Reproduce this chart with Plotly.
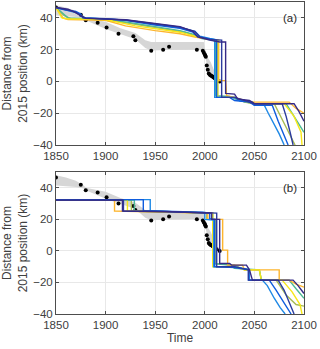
import plotly.graph_objects as go
from plotly.subplots import make_subplots

# observed front positions (km from 2015 position)
obs_year = [1850, 1875, 1880, 1892, 1901, 1913, 1928, 1930, 1946, 1958, 1964,
            1992, 1998, 1999, 2000, 2000.5, 2001, 2002, 2003, 2004, 2005, 2006,
            2007, 2008, 2009, 2010, 2012, 2015]
obs_dist = [46.5, 42, 38.5, 37, 34, 30, 28.4, 26, 19.3, 20, 21.8,
            20, 19.3, 18, 17, 16.2, 15.5, 10, 7.4, 5, 4.2, 3.8,
            3.5, 3, 2.5, 2, 1, 0]

# uncertainty band of observations
band_year = [1850, 1860, 1870, 1878, 1880, 1900, 1915, 1930, 1940, 1946, 1960, 1990,
             1999, 2000, 2003, 2006, 2008, 2012, 2015]
band_upper = [48, 46.5, 44.5, 41.5, 40, 37.5, 33.5, 30.5, 26, 24.8, 24.8, 24.8,
              24.8, 21, 15, 12, 9, 3, 0]
band_lower = [41.5, 41, 40.5, 39.5, 38.5, 33, 29.5, 26.5, 21, 19.5, 19.8, 20,
              19.5, 16, 8, 3, 2, 0.5, 0]

colors = {
    "navy": "#352A87",
    "navy2": "#2B3B9E",
    "blue": "#0F5CDD",
    "lightblue": "#1E88E5",
    "teal": "#4DBA95",
    "olive": "#A8BC55",
    "orange": "#FDB52E",
    "yellow": "#F7E718",
}

# panel (a) model runs: (years, distances)
runs_a = {
    "olive": ([1850, 1858, 1865, 1900, 1930, 1955, 1980, 1995, 2013, 2013, 2030, 2040, 2050, 2070, 2078, 2086, 2091],
              [46.5, 41.5, 39.5, 39, 36, 33.5, 31, 27.5, 26, -10, -10, -13, -14, -14, -24, -33, -40]),
    "teal": ([1850, 1858, 1862, 1880, 1920, 1950, 1975, 1990, 1997, 2008, 2011, 2011, 2025, 2035, 2050, 2082, 2090, 2100],
             [46.5, 42, 40, 39.5, 37.5, 34.5, 32, 29.5, 27, 26, 25, -9, -9.5, -12, -14, -14, -22, -32]),
    "orange": ([1850, 1857, 1862, 1900, 1920, 1950, 1975, 1990, 2005, 2014, 2014, 2021, 2022, 2030, 2040, 2050, 2085, 2092, 2100],
               [46.5, 40, 39, 38.5, 35, 32, 30, 28, 26.5, 26, 0.5, 0.5, -9, -10, -12, -13, -13, -17, -20]),
    "yellow": ([1850, 1856, 1860, 1900, 1930, 1955, 1975, 1990, 2005, 2013, 2013, 2030, 2040, 2050, 2080, 2090, 2097, 2098],
               [46.5, 40, 39.5, 39, 35, 33, 31, 28.5, 26.5, 26, -10, -10, -12.5, -14, -14, -22, -32, -40]),
    "lightblue": ([1850, 1865, 1872, 1876, 1880, 1920, 1950, 1975, 1990, 1995, 2005, 2010, 2010, 2030, 2035, 2048, 2050, 2060, 2064, 2070, 2075, 2080],
                  [46.5, 44, 43, 41, 40, 38.6, 35.8, 33.8, 31.5, 28.5, 27, 26.5, -10, -10, -12, -13, -15, -15, -20, -27, -33, -40]),
    "blue": ([1850, 1860, 1870, 1875, 1877, 1900, 1920, 1950, 1975, 1988, 1993, 2005, 2012, 2012, 2025, 2030, 2045, 2050, 2068, 2074, 2080, 2084],
             [46.5, 45, 44, 42.5, 40, 39.5, 38.5, 35.5, 33.5, 31, 28, 26.5, 26, -10, -10, -12, -13, -15, -15, -25, -34, -40]),
    "navy2": ([1850, 1862, 1870, 1874, 1878, 1920, 1950, 1975, 1990, 1995, 2005, 2017, 2017, 2030, 2040, 2050, 2078, 2082, 2086, 2089],
              [46.5, 45, 43.5, 41.5, 40, 38.7, 36, 34.2, 31.5, 28, 26.5, 26, -10, -10, -12, -14, -14, -22, -32, -40]),
    "navy": ([1850, 1862, 1868, 1873, 1876, 1880, 1920, 1950, 1975, 1988, 1993, 2005, 2015, 2021, 2021, 2030, 2033, 2045, 2050, 2090, 2095, 2100],
             [46.5, 45.5, 44, 42, 41, 39.7, 38.8, 36.2, 34.5, 31.5, 28, 26, 24.8, 24.8, -7.5, -8, -11, -12, -14, -14, -19, -25]),
}

# panel (b) model runs
runs_b = {
    "olive": ([1850, 1926, 1926, 1998, 2002, 2002, 2011, 2011, 2030, 2040, 2055, 2057, 2072, 2082, 2092, 2100],
              [32.2, 32.2, 25.5, 24.3, 24, 20, 20, -8, -9, -12, -12, -18.5, -18.5, -28, -34, -35]),
    "teal": ([1850, 1929, 1929, 1998, 2008, 2008, 2025, 2030, 2055, 2057, 2085, 2092, 2100],
             [32.2, 32.2, 25.5, 24.5, 24, -8, -9, -11, -12, -18.5, -18.5, -24, -30]),
    "orange": ([1850, 1909, 1909, 1998, 2003, 2003, 2018, 2018, 2023, 2023, 2038, 2040, 2075, 2075, 2085, 2092, 2100],
               [32.2, 32.2, 25.3, 24.5, 24, 20, 20, 0.5, 0.5, -9, -9, -12, -12, -18.5, -18.5, -21, -23]),
    "yellow": ([1850, 1922, 1922, 1998, 2008, 2008, 2030, 2040, 2055, 2057, 2078, 2088, 2096, 2098],
               [32.2, 32.2, 25.3, 24.5, 24, -10, -10, -12, -12, -18.5, -18.5, -26, -34, -40]),
    "lightblue": ([1850, 1945, 1945, 1960, 1998, 2000, 2000, 2009, 2009, 2030, 2045, 2045, 2058, 2063, 2070, 2076, 2081],
                  [32.5, 32.5, 25.5, 25.2, 24.5, 24, 20, 19.5, -10, -10, -12, -18.5, -18.5, -22, -30, -36, -40]),
    "blue": ([1850, 1938, 1938, 1960, 1998, 2005, 2005, 2010, 2010, 2030, 2044, 2044, 2065, 2072, 2080, 2087],
             [32.5, 32.5, 25.5, 25.2, 24.5, 24, 20.5, 20, -10, -10.5, -12, -18.5, -18.5, -25, -33, -40]),
    "navy2": ([1850, 1918, 1918, 1960, 1999, 2012, 2012, 2030, 2044, 2044, 2074, 2080, 2086, 2090],
              [32.2, 32.2, 25.3, 25, 24.3, 24, -10, -10, -12, -18.5, -18.5, -25, -34, -40]),
    "navy": ([1850, 1917, 1917, 1960, 2000, 2007, 2007, 2015, 2015, 2025, 2027, 2042, 2045, 2048, 2089, 2094, 2100],
             [32.2, 32.2, 25.3, 25, 24, 24, 20, 20, -8, -8, -9, -9, -12, -18.5, -18.5, -22, -27]),
}

FONT = "Liberation Sans, Arial"

fig = make_subplots(rows=2, cols=1, vertical_spacing=0.0)

for row, runs in ((1, runs_a), (2, runs_b)):
    fig.add_trace(go.Scatter(x=band_year, y=band_upper, mode="lines",
                             line=dict(width=0), hoverinfo="skip",
                             showlegend=False), row=row, col=1)
    fig.add_trace(go.Scatter(x=band_year, y=band_lower, mode="lines",
                             line=dict(width=0), fill="tonexty",
                             fillcolor="#D6D6D6", hoverinfo="skip",
                             showlegend=False), row=row, col=1)
    fig.add_trace(go.Scatter(x=obs_year, y=obs_dist, mode="markers",
                             marker=dict(color="black", size=4),
                             showlegend=False), row=row, col=1)
    for name, (yrs, dist) in runs.items():
        fig.add_trace(go.Scatter(x=yrs, y=dist, mode="lines",
                                 line=dict(color=colors[name], width=1.4),
                                 showlegend=False), row=row, col=1)

axis_style = dict(
    showline=True, linecolor="#4D4D4D", linewidth=1, mirror="ticks",
    ticks="inside", ticklen=3, tickcolor="#4D4D4D",
    showgrid=True, gridcolor="#E8E8E8", gridwidth=1, zeroline=False,
    automargin=False,
    tickfont=dict(family=FONT, size=11.5, color="#404040"),
)

for row in (1, 2):
    fig.update_xaxes(range=[1850, 2100], dtick=50, **axis_style, row=row, col=1)
    fig.update_yaxes(range=[-40, 50], tickvals=[-40, -20, 0, 20, 40],
                     title=dict(text="Distance from<br>2015 position (km)",
                                font=dict(family=FONT, size=12, color="#404040"),
                                standoff=4),
                     **axis_style, row=row, col=1)

fig.update_xaxes(title=dict(text="Time", standoff=2,
                            font=dict(family=FONT, size=12, color="#404040")),
                 row=2, col=1)

fig.update_layout(
    width=320, height=349,
    margin=dict(l=56, r=16, t=2, b=35),
    plot_bgcolor="white", paper_bgcolor="white",
    yaxis=dict(domain=[0.5417, 1.0]),
    yaxis2=dict(domain=[0.0, 0.455]),
    annotations=[
        dict(x=2086, y=40, xref="x", yref="y", text="(a)", showarrow=False,
             font=dict(family=FONT, size=11.5, color="#262626")),
        dict(x=2086, y=40, xref="x2", yref="y2", text="(b)", showarrow=False,
             font=dict(family=FONT, size=11.5, color="#262626")),
    ],
)

# drop the page's default body margin so the figure sits at the window corner
fig.write_html("out.html", config={"displayModeBar": False},
               post_script="document.body.style.margin='0';")
